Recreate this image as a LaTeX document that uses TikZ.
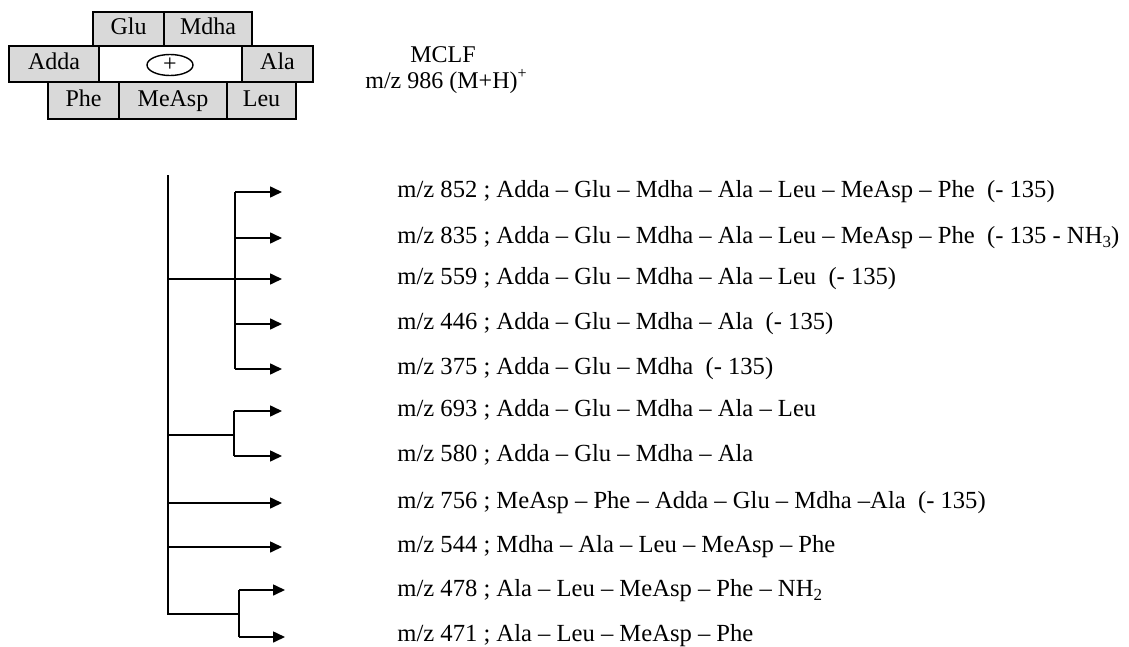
\documentclass[tikz,border=0pt]{standalone}
\usepackage{fontspec}
\setmainfont{Liberation Serif}
\usetikzlibrary{arrows.meta,shapes.geometric}
\definecolor{boxgray}{HTML}{D9D9D9}
\newcommand{\subsc}[1]{\raisebox{-2.2pt}{\fontsize{8.5}{9}\selectfont #1}}
\newcommand{\supsc}[1]{\raisebox{5pt}{\fontsize{8}{9}\selectfont #1}}
\begin{document}
\begin{tikzpicture}[x=0.5pt,y=-0.5pt,
  pbox/.style={draw=black, line width=0.7pt, fill=boxgray, inner sep=0pt, text height=8.2pt, text depth=2.6pt, font=\fontsize{12}{14}\selectfont},
  wbox/.style={draw=black, line width=0.7pt, fill=white, inner sep=0pt},
  tree/.style={line width=0.8pt, draw=black},
  arr/.style={tree, -{Triangle[length=6pt,width=5.5pt]}},
  lab/.style={anchor=base west, inner sep=0pt, font=\fontsize{12.3}{15}\selectfont},
  ttl/.style={anchor=base, inner sep=0pt, font=\fontsize{12}{14}\selectfont},
]
\useasboundingbox (0,0) rectangle (1129,647);
% structure boxes
\node[wbox, minimum width=71.5pt, minimum height=18pt] (ring) at (170.5,64) {};
\node[pbox, minimum width=35.5pt, minimum height=17pt] (glu) at (128.5,29) {Glu};
\node[pbox, minimum width=44pt, minimum height=17pt] (mdha) at (208,29) {Mdha};
\node[pbox, minimum width=45pt, minimum height=18pt] (adda) at (54,64) {Adda};
\node[pbox, minimum width=35.5pt, minimum height=18pt] (ala) at (277.5,64) {Ala};
\node[pbox, minimum width=35.5pt, minimum height=18.5pt] (phe) at (83.5,100.5) {Phe};
\node[pbox, minimum width=54pt, minimum height=18.5pt] (measp) at (173,100.5) {MeAsp};
\node[pbox, minimum width=34.5pt, minimum height=18.5pt] (leu) at (261.5,100.5) {Leu};
\node[ellipse, draw=black, line width=0.7pt, minimum width=23pt, minimum height=10.5pt, inner sep=0pt, font=\fontsize{12}{14}\selectfont] (plus) at (170,65) {+};
% title
\node[ttl] (mclf) at (443,63) {MCLF};
\node[ttl] (mz) at (446,89) {m/z 986 (M+H)\supsc{+}};
% tree coordinates
\coordinate (top) at (168,175);
\coordinate (bot) at (168,614);
\coordinate (jA) at (168,279);
\coordinate (jB) at (168,435);
\coordinate (jC) at (239,614);
\coordinate (a1) at (235,192);
\coordinate (a2) at (235,238);
\coordinate (a3) at (235,279);
\coordinate (a4) at (235,324);
\coordinate (a5) at (235,369);
\coordinate (b1) at (234,411);
\coordinate (b0) at (234,435);
\coordinate (b2) at (234,456);
\coordinate (d1) at (168,503);
\coordinate (d2) at (168,547);
\coordinate (c1) at (239,590);
\coordinate (c2) at (239,637);
\foreach \n/\y in {1/192,2/238,3/279,4/324,5/369,6/411,7/456,8/503,9/547}
  \coordinate (t\n) at (282,\y);
\coordinate (t10) at (285,590);
\coordinate (t11) at (285,637);
% tree lines
\draw[tree] (top) -- (bot) -- (jC);
\draw[tree] (jA) -- (a3);
\draw[tree] (a1) -- (a5);
\draw[tree] (jB) -- (b0);
\draw[tree] (b1) -- (b2);
\draw[tree] (c1) -- (c2);
\draw[arr] (a1) -- (t1);
\draw[arr] (a2) -- (t2);
\draw[arr] (a3) -- (t3);
\draw[arr] (a4) -- (t4);
\draw[arr] (a5) -- (t5);
\draw[arr] (b1) -- (t6);
\draw[arr] (b2) -- (t7);
\draw[arr] (d1) -- (t8);
\draw[arr] (d2) -- (t9);
\draw[arr] (c1) -- (t10);
\draw[arr] (c2) -- (t11);
% labels
\node[lab] (l1) at (397,197) {m/z 852 ; Adda -- Glu -- Mdha -- Ala -- Leu -- MeAsp -- Phe \ (- 135)};
\node[lab] (l2) at (397,243) {m/z 835 ; Adda -- Glu -- Mdha -- Ala -- Leu -- MeAsp -- Phe \ (- 135 - NH\subsc{3})};
\node[lab] (l3) at (397,284) {m/z 559 ; Adda -- Glu -- Mdha -- Ala -- Leu \ (- 135)};
\node[lab] (l4) at (397,329) {m/z 446 ; Adda -- Glu -- Mdha -- Ala \ (- 135)};
\node[lab] (l5) at (397,374) {m/z 375 ; Adda -- Glu -- Mdha \ (- 135)};
\node[lab] (l6) at (397,416) {m/z 693 ; Adda -- Glu -- Mdha -- Ala -- Leu};
\node[lab] (l7) at (397,461) {m/z 580 ; Adda -- Glu -- Mdha -- Ala};
\node[lab] (l8) at (397,508) {m/z 756 ; MeAsp -- Phe -- Adda -- Glu -- Mdha --Ala \ (- 135)};
\node[lab] (l9) at (397,552) {m/z 544 ; Mdha -- Ala -- Leu -- MeAsp -- Phe};
\node[lab] (l10) at (397,596) {m/z 478 ; Ala -- Leu -- MeAsp -- Phe -- NH\subsc{2}};
\node[lab] (l11) at (397,641) {m/z 471 ; Ala -- Leu -- MeAsp -- Phe};
\end{tikzpicture}
\end{document}
